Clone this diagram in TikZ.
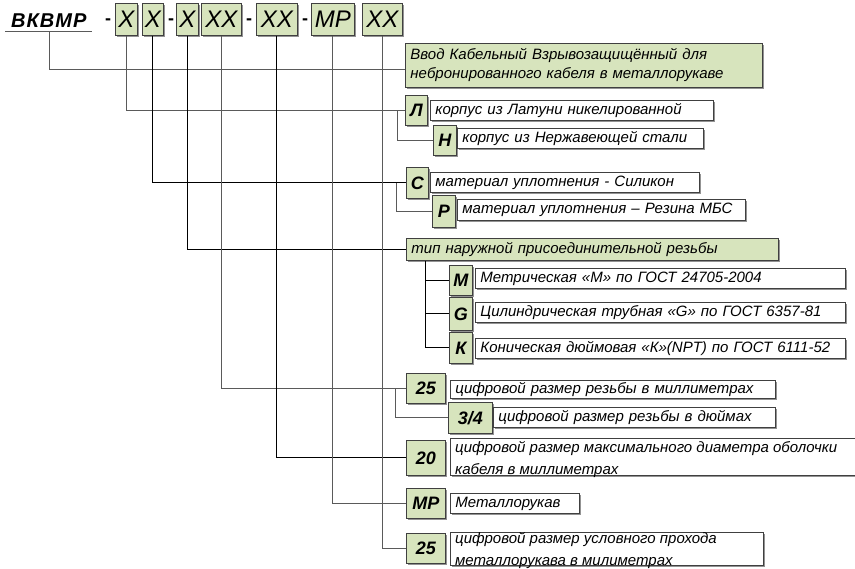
\documentclass[tikz,border=0pt]{standalone}
\usepackage{fontspec}
\setmainfont{Liberation Sans}
\usetikzlibrary{shadows,calc}
\definecolor{boxgreen}{HTML}{D7E4BD}
\definecolor{edge}{HTML}{404040}
\definecolor{lgray}{HTML}{5A5A5A}
\begin{document}
\begin{tikzpicture}[x=1pt,y=-1pt,
 box/.style={draw=edge, line width=0.9pt, anchor=north west, inner sep=0pt,
   drop shadow={shadow xshift=1.3pt, shadow yshift=-1.3pt, fill=black!60, opacity=0.7}},
 hdr/.style={box, fill=boxgreen, font=\itshape\fontsize{24}{24}\selectfont},
 lab/.style={box, fill=boxgreen, font=\bfseries\itshape\fontsize{18}{18}\selectfont},
 desc/.style={box, fill=white, align=left, inner xsep=5pt, font=\itshape\fontsize{15}{18}\selectfont},
 gdesc/.style={desc, fill=boxgreen},
 txt/.style={anchor=north west, inner xsep=5pt, inner ysep=0pt, align=left, font=\itshape\fontsize{15}{22}\selectfont},
 hyph/.style={font=\bfseries\fontsize{18}{18}\selectfont, inner sep=0pt},
 conn/.style={line width=1pt, draw=lgray},
 connb/.style={line width=1pt, draw=black}]
\useasboundingbox (0,0) rectangle (855,569);
\fill[white] (0,0) rectangle (855,569);

% header
\node[font=\bfseries\itshape\fontsize{20}{20}\selectfont, anchor=base west, inner sep=0pt] (vkvmr) at (11,28) {В\kern1ptК\kern1ptВ\kern1ptМ\kern1ptР};
\coordinate (ul1) at (5,32);
\coordinate (ul2) at (92,32);
\draw[line width=1pt, draw=lgray] (ul1) -- (ul2);
\coordinate (c0) at (49,32);
\node[hyph] (h1) at (108,22) {-};
\node[hyph] (h2) at (171,22) {-};
\node[hyph] (h3) at (249,22) {-};
\node[hyph] (h4) at (305,22) {-};
\node[hdr, minimum width=22pt, minimum height=32pt] (x1) at (115,3) {X};
\node[hdr, minimum width=21pt, minimum height=32pt] (x2) at (142,3) {X};
\node[hdr, minimum width=22pt, minimum height=32pt] (x3) at (176,3) {X};
\node[hdr, minimum width=40pt, minimum height=32pt] (x4) at (201,3) {XX};
\node[hdr, minimum width=41pt, minimum height=32pt] (x5) at (256,3) {XX};
\node[hdr, minimum width=43pt, minimum height=32pt] (mp) at (311,3) {MP};
\node[hdr, minimum width=40pt, minimum height=32pt] (x7) at (362,3) {XX};

% right boxes
\node[gdesc, minimum width=357pt, minimum height=44pt, text width=347pt, font=\itshape\fontsize{15}{19}\selectfont] (vvod) at (405,43)
 {Ввод Кабельный Взрывозащищённый для\\небронированного кабеля в металлорукаве};

\node[lab, minimum width=22pt, minimum height=30pt] (L) at (405,95) {Л};
\node[desc, minimum width=283pt, minimum height=20pt, text width=273pt] (dL) at (430,100) {корпус из Латуни никелированной};
\node[lab, minimum width=23pt, minimum height=30pt] (N) at (433,125) {Н};
\node[desc, minimum width=246pt, minimum height=20pt, text width=236pt] (dN) at (457,128) {корпус из Нержавеющей стали};

\node[lab, minimum width=22pt, minimum height=31pt] (C) at (406,167) {С};
\node[desc, minimum width=269pt, minimum height=20pt, text width=259pt] (dC) at (430,172) {материал уплотнения - Силикон};
\node[lab, minimum width=23pt, minimum height=32pt] (P) at (432,195) {Р};
\node[desc, minimum width=288pt, minimum height=21pt, text width=278pt] (dP) at (457,199) {материал уплотнения – Резина МБС};

\node[gdesc, minimum width=372pt, minimum height=22pt, text width=362pt] (tip) at (406,238) {тип наружной присоединительной резьбы};

\node[lab, minimum width=23pt, minimum height=30pt] (M) at (449,265) {М};
\node[desc, minimum width=370pt, minimum height=20pt, text width=360pt] (dM) at (475,268) {Метрическая «М» по ГОСТ 24705-2004};
\node[lab, minimum width=23pt, minimum height=33pt] (G) at (449,297) {G};
\node[desc, minimum width=370pt, minimum height=20pt, text width=360pt] (dG) at (475,302) {Цилиндрическая трубная «G» по ГОСТ 6357-81};
\node[lab, minimum width=23pt, minimum height=31pt] (K) at (449,332) {К};
\node[desc, minimum width=370pt, minimum height=20pt, text width=360pt] (dK) at (475,338) {Коническая дюймовая «К»(NPT) по ГОСТ 6111-52};

\node[lab, minimum width=39pt, minimum height=30pt] (n25) at (406,373) {25};
\node[desc, minimum width=325pt, minimum height=18pt, text width=315pt] (d25) at (450,380) {цифровой размер резьбы в миллиметрах};
\node[lab, minimum width=44pt, minimum height=31pt] (n34) at (448,402) {3/4};
\node[desc, minimum width=282pt, minimum height=20pt, text width=272pt] (d34) at (493,407) {цифровой размер резьбы в дюймах};

\node[lab, minimum width=39pt, minimum height=35pt] (n20) at (406,440) {20};
\node[box, fill=white, minimum width=420pt, minimum height=37pt] (d20) at (450,438) {};
\node[txt] (t20) at (450,441) {цифровой размер максимального диаметра оболочки\\кабеля в миллиметрах};

\node[lab, minimum width=39pt, minimum height=30pt] (mp2) at (406,488) {MP};
\node[desc, minimum width=129pt, minimum height=20pt, text width=119pt] (dmp) at (450,493) {Металлорукав};

\node[lab, minimum width=39pt, minimum height=30pt] (n25b) at (406,533) {25};
\node[box, fill=white, minimum width=313pt, minimum height=33pt] (d25b) at (450,532) {};
\node[txt] (t25b) at (450,532) {цифровой размер условного прохода\\металлорукава в милиметрах};

% connectors
\draw[conn] (c0) |- ($(vvod.west)+(0,4)$);
\draw[conn] (x1.south) |- (L.west);
\draw[conn] ($(L.west)+(-8,0)$) |- (N.west);
\draw[connb] (x2.south) |- (C.west);
\draw[conn] ($(C.west)+(-10,0)$) |- (P.west);
\draw[connb] (x3.south) |- (tip.west);
\coordinate (tb) at ($(tip.south west)+(19,0)$);
\draw[connb] (tb) |- (K.west);
\draw[connb] (tb |- M.west) -- (M.west);
\draw[connb] (tb |- G.west) -- (G.west);
\draw[conn] (x4.south) |- (n25.west);
\draw[conn] ($(n25.west)+(-11,0)$) |- (n34.west);
\draw[connb] (x5.south) |- (n20.west);
\draw[conn] (mp.south) |- (mp2.west);
\draw[conn] (x7.south) |- (n25b.west);
\end{tikzpicture}
\end{document}
